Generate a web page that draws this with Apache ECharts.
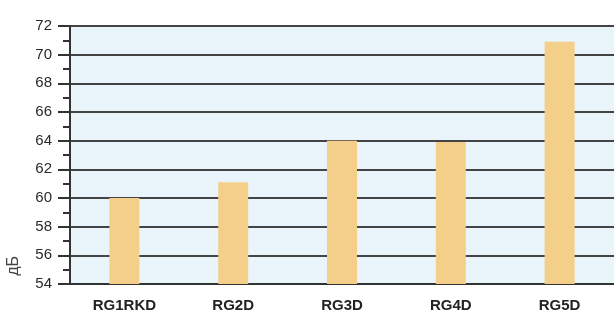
<!DOCTYPE html>
<html>
<head>
<meta charset="utf-8">
<script src="https://cdn.jsdelivr.net/npm/echarts@6/dist/echarts.min.js"></script>
<style>
  html, body { margin: 0; padding: 0; background: #fff; }
  #chart { width: 614px; height: 314px; }
</style>
</head>
<body>
<div id="chart"></div>
<script>
const categories = ['RG1RKD', 'RG2D', 'RG3D', 'RG4D', 'RG5D']
const levels = [60, 61.1, 64, 63.9, 70.9]
const yMin = 54
const yMax = 72
const yStep = 2
const unitLabel = 'дБ'

const chart = echarts.init(document.getElementById('chart'))

chart.setOption({
  animation: false,
  grid: {
    left: 70,
    right: -4,
    top: 26,
    bottom: 30,
    show: true,
    backgroundColor: '#e9f4fb',
    borderWidth: 0,
  },
  graphic: [
    {
      type: 'text',
      left: 6,
      top: 256,
      rotation: Math.PI / 2,
      style: {
        text: unitLabel,
        fill: '#444',
        font: '16px "Liberation Sans", Arial, sans-serif',
      },
    },
  ],
  xAxis: {
    type: 'category',
    data: categories,
    axisLine: { lineStyle: { color: '#333', width: 2 } },
    axisTick: { show: false },
    axisLabel: {
      color: '#222',
      fontSize: 15,
      fontWeight: 'bold',
      fontFamily: '"Liberation Sans", Arial, sans-serif',
      margin: 14,
    },
  },
  yAxis: {
    type: 'value',
    min: yMin,
    max: yMax,
    interval: yStep,
    axisLine: { show: true, lineStyle: { color: '#333', width: 2 } },
    axisTick: { show: true, length: 12, lineStyle: { color: '#333', width: 2 } },
    minorTick: { show: true, splitNumber: 2, length: 7, lineStyle: { color: '#333', width: 2 } },
    splitLine: { show: true, lineStyle: { color: '#444', width: 2 } },
    axisLabel: {
      color: '#2a2a2a',
      fontSize: 15,
      fontFamily: '"Liberation Sans", Arial, sans-serif',
      margin: 18,
    },
  },
  series: [
    {
      type: 'bar',
      data: levels,
      barWidth: 30,
      itemStyle: { color: '#f3cf8a' },
      z: 3,
    },
  ],
})
</script>
</body>
</html>
